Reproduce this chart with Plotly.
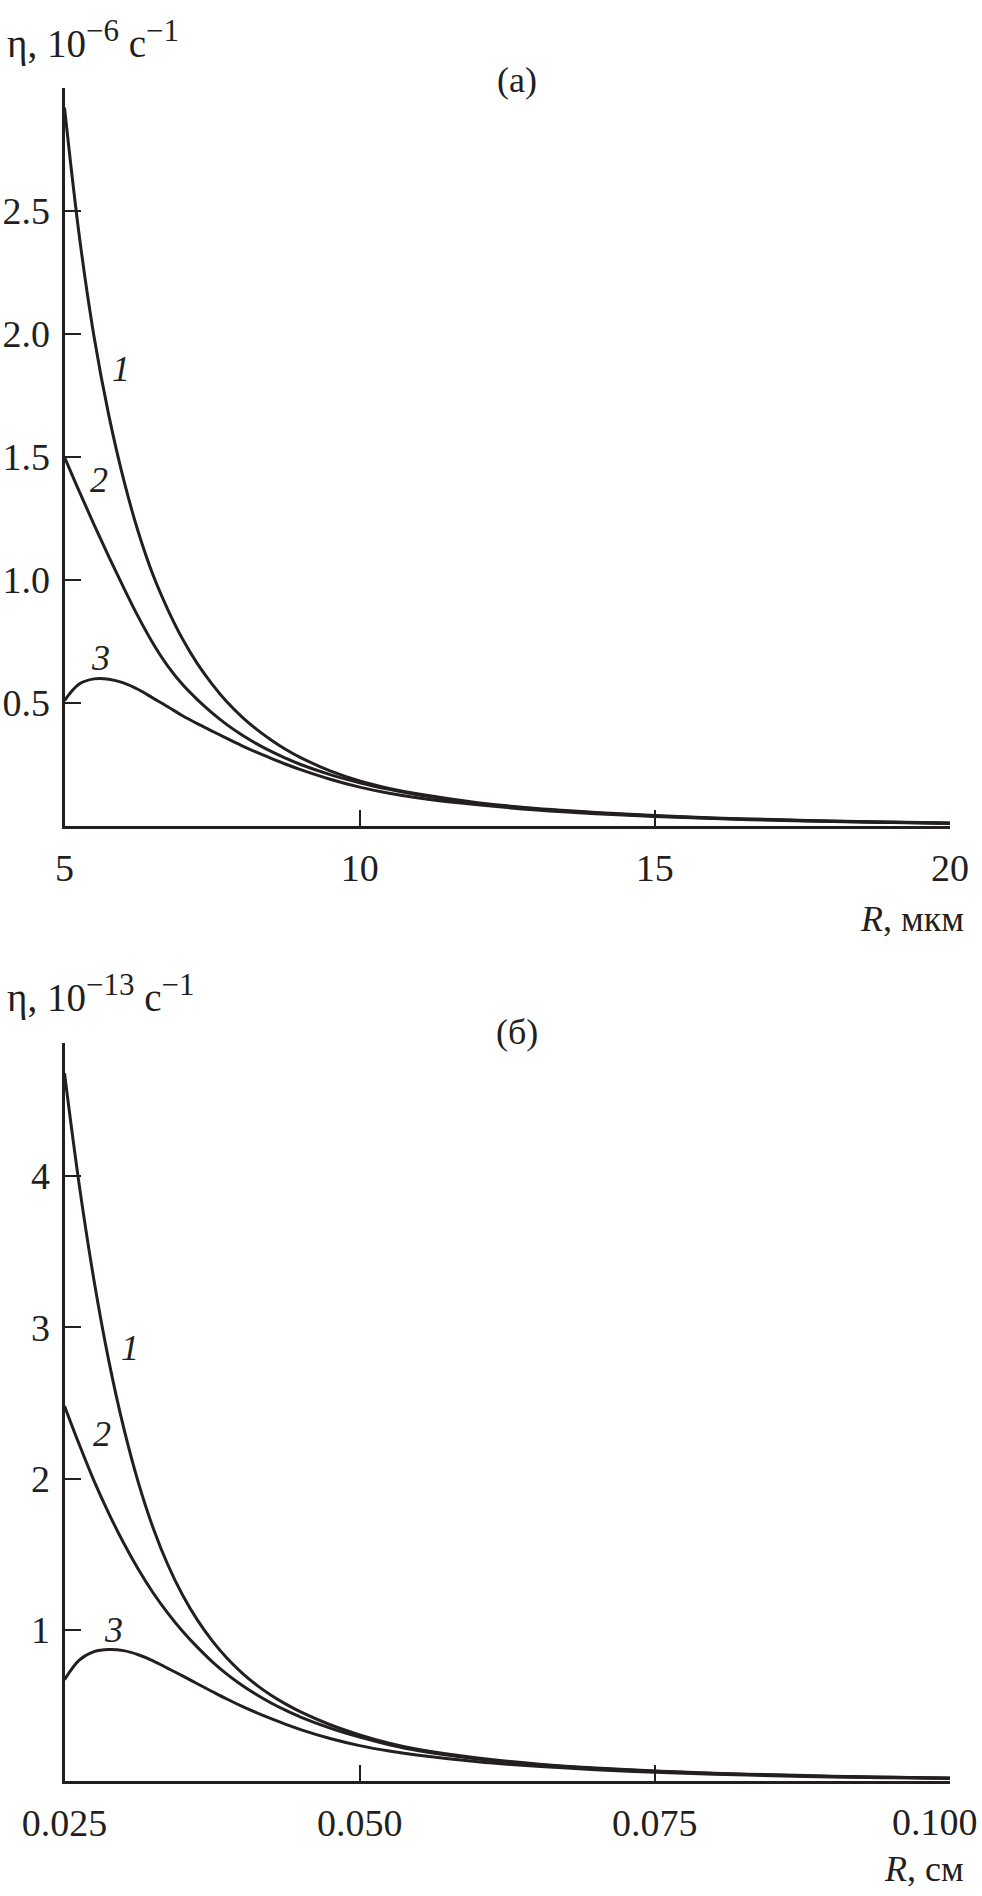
import plotly.graph_objects as go

# ---------------- Panel (a): R in micrometres ----------------
R_a = [5.0, 5.25, 5.5, 5.75, 6.0, 6.25, 6.5, 6.75, 7.0, 7.25, 7.5, 7.75,
       8.0, 8.25, 8.5, 8.75, 9.0, 9.5, 10.0, 10.5, 11.0, 12.0, 13.0, 14.0,
       15.0, 16.0, 17.0, 18.0, 19.0, 20.0]
eta1_a = [2.92, 2.40, 1.99, 1.67, 1.41, 1.195, 1.02, 0.88, 0.76, 0.66, 0.577,
          0.505, 0.445, 0.394, 0.35, 0.311, 0.278, 0.224, 0.183, 0.153, 0.13,
          0.095, 0.071, 0.055, 0.043, 0.033, 0.026, 0.02, 0.016, 0.012]
eta2_a = [1.50, 1.36, 1.225, 1.095, 0.97, 0.85, 0.742, 0.65, 0.575, 0.514,
          0.46, 0.412, 0.371, 0.335, 0.303, 0.275, 0.25, 0.209, 0.176, 0.149,
          0.126, 0.092, 0.069, 0.053, 0.041, 0.032, 0.025, 0.019, 0.015, 0.011]
eta3_a = [0.51, 0.577, 0.598, 0.597, 0.582, 0.555, 0.52, 0.485, 0.448, 0.416,
          0.386, 0.356, 0.327, 0.30, 0.275, 0.251, 0.229, 0.19, 0.158, 0.133,
          0.114, 0.086, 0.065, 0.05, 0.039, 0.03, 0.023, 0.018, 0.014, 0.01]
xticks_a = [5, 10, 15, 20]
xtick_text_a = ["5", "10", "15", "20"]
yticks_a = [0.5, 1.0, 1.5, 2.0, 2.5]
ytick_text_a = ["0.5", "1.0", "1.5", "2.0", "2.5"]

# ---------------- Panel (б): R in centimetres ----------------
R_b = [0.025, 0.02625, 0.0275, 0.02875, 0.030, 0.03125, 0.0325, 0.03375,
       0.035, 0.03625, 0.0375, 0.03875, 0.040, 0.04125, 0.0425, 0.04375,
       0.045, 0.0475, 0.050, 0.0525, 0.055, 0.060, 0.065, 0.070, 0.075,
       0.080, 0.085, 0.090, 0.095, 0.100]
eta1_b = [4.68, 3.94, 3.31, 2.78, 2.34, 1.975, 1.675, 1.43, 1.23, 1.065,
          0.928, 0.813, 0.717, 0.636, 0.567, 0.508, 0.457, 0.372, 0.305,
          0.25, 0.208, 0.152, 0.113, 0.086, 0.066, 0.052, 0.041, 0.032,
          0.025, 0.02]
eta2_b = [2.48, 2.225, 1.985, 1.77, 1.575, 1.40, 1.245, 1.11, 0.99, 0.885,
          0.79, 0.707, 0.635, 0.572, 0.516, 0.467, 0.423, 0.35, 0.29, 0.24,
          0.20, 0.146, 0.109, 0.083, 0.064, 0.05, 0.039, 0.03, 0.024, 0.019]
eta3_b = [0.67, 0.80, 0.855, 0.869, 0.862, 0.835, 0.795, 0.745, 0.695, 0.643,
          0.592, 0.542, 0.495, 0.452, 0.412, 0.375, 0.34, 0.281, 0.234, 0.198,
          0.17, 0.127, 0.097, 0.075, 0.058, 0.045, 0.035, 0.027, 0.021, 0.016]
xticks_b = [0.025, 0.050, 0.075, 0.100]
xtick_text_b = ["0.025", "0.050", "0.075", "0.100"]
yticks_b = [1, 2, 3, 4]
ytick_text_b = ["1", "2", "3", "4"]

W, H = 982, 1896
INK = "#231f20"
FONT = "Liberation Serif"


def px(x):
    return x / W


def py(y):
    return 1 - y / H


fig = go.Figure()
for ys in (eta1_a, eta2_a, eta3_a):
    fig.add_trace(go.Scatter(x=R_a, y=ys, mode="lines", xaxis="x", yaxis="y",
                             line=dict(color=INK, width=3, shape="spline", smoothing=1.0),
                             showlegend=False, hoverinfo="skip"))
for ys in (eta1_b, eta2_b, eta3_b):
    fig.add_trace(go.Scatter(x=R_b, y=ys, mode="lines", xaxis="x2", yaxis="y2",
                             line=dict(color=INK, width=3, shape="spline", smoothing=1.0),
                             showlegend=False, hoverinfo="skip"))

axis_common = dict(showline=True, linewidth=3, linecolor=INK, ticks="inside",
                   ticklen=16, tickwidth=2, tickcolor=INK, showgrid=False,
                   zeroline=False, automargin=False, ticklabeloverflow="allow",
                   tickfont=dict(family=FONT, size=38, color=INK),
                   fixedrange=True)

# the last bottom tick label is placed separately (shifted left to stay on the page)
xtext_b_axis = xtick_text_b[:-1] + [""]

xdom = [px(64.5), px(950)]
fig.update_layout(
    width=W, height=H, margin=dict(l=0, r=0, t=0, b=0, autoexpand=False),
    paper_bgcolor="white", plot_bgcolor="white",
    xaxis=dict(domain=xdom, range=[5, 20], anchor="y", tickvals=xticks_a,
               ticktext=xtick_text_a, ticklabelstandoff=6, **axis_common),
    yaxis=dict(domain=[py(826), py(88)], range=[0, 3.0], anchor="x",
               tickvals=yticks_a, ticktext=ytick_text_a, ticklabelstandoff=4,
               **axis_common),
    xaxis2=dict(domain=xdom, range=[0.025, 0.100], anchor="y2", tickvals=xticks_b,
                ticktext=xtext_b_axis, ticklabelstandoff=6, **axis_common),
    yaxis2=dict(domain=[py(1781), py(1043)], range=[0, 4.88], anchor="x2",
                tickvals=yticks_b, ticktext=ytick_text_b, ticklabelstandoff=4,
                **axis_common),
)

tfont = dict(family=FONT, size=39, color=INK)
SUP = "<sup><span style='font-size:31px'>%s</span></sup>"
ann = []
# last tick label of the bottom axis
ann.append(dict(x=px(980), y=py(1822), xref="paper", yref="paper", xanchor="right",
                yanchor="middle", showarrow=False, text=xtick_text_b[-1],
                font=dict(family=FONT, size=38, color=INK)))
# y-axis titles
ann.append(dict(x=px(5), y=py(40), xref="paper", yref="paper", xanchor="left",
                yanchor="middle", showarrow=False,
                text="η, 10" + SUP % "−6" + " c" + SUP % "−1", font=tfont))
ann.append(dict(x=px(5), y=py(993), xref="paper", yref="paper", xanchor="left",
                yanchor="middle", showarrow=False,
                text="η, 10" + SUP % "−13" + " c" + SUP % "−1", font=tfont))
# panel letters
ann.append(dict(x=px(517), y=py(80), xref="paper", yref="paper", xanchor="center",
                yanchor="middle", showarrow=False, text="(a)",
                font=dict(family=FONT, size=36, color=INK)))
ann.append(dict(x=px(517), y=py(1032), xref="paper", yref="paper", xanchor="center",
                yanchor="middle", showarrow=False, text="(б)",
                font=dict(family=FONT, size=36, color=INK)))
# x-axis titles
ann.append(dict(x=px(966), y=py(919), xref="paper", yref="paper", xanchor="right",
                yanchor="middle", showarrow=False, text="<i>R</i>, мкм",
                font=dict(family=FONT, size=36, color=INK)))
ann.append(dict(x=px(966), y=py(1869), xref="paper", yref="paper", xanchor="right",
                yanchor="middle", showarrow=False, text="<i>R</i>, см",
                font=dict(family=FONT, size=36, color=INK)))
# curve labels
lfont = dict(family=FONT, size=36, color=INK)
for (x, y, t) in [(121, 369, "1"), (99, 480, "2"), (100, 658, "3"),
                  (130, 1348, "1"), (102, 1434, "2"), (113, 1630, "3")]:
    ann.append(dict(x=px(x), y=py(y), xref="paper", yref="paper", xanchor="center",
                    yanchor="middle", showarrow=False, text="<i>%s</i>" % t,
                    font=lfont))
fig.update_layout(annotations=ann)

# remove the browser's default 8 px body margin so the figure fills the window
fig.write_html("out.html", config={"displayModeBar": False},
               post_script="document.body.style.margin='0';")
